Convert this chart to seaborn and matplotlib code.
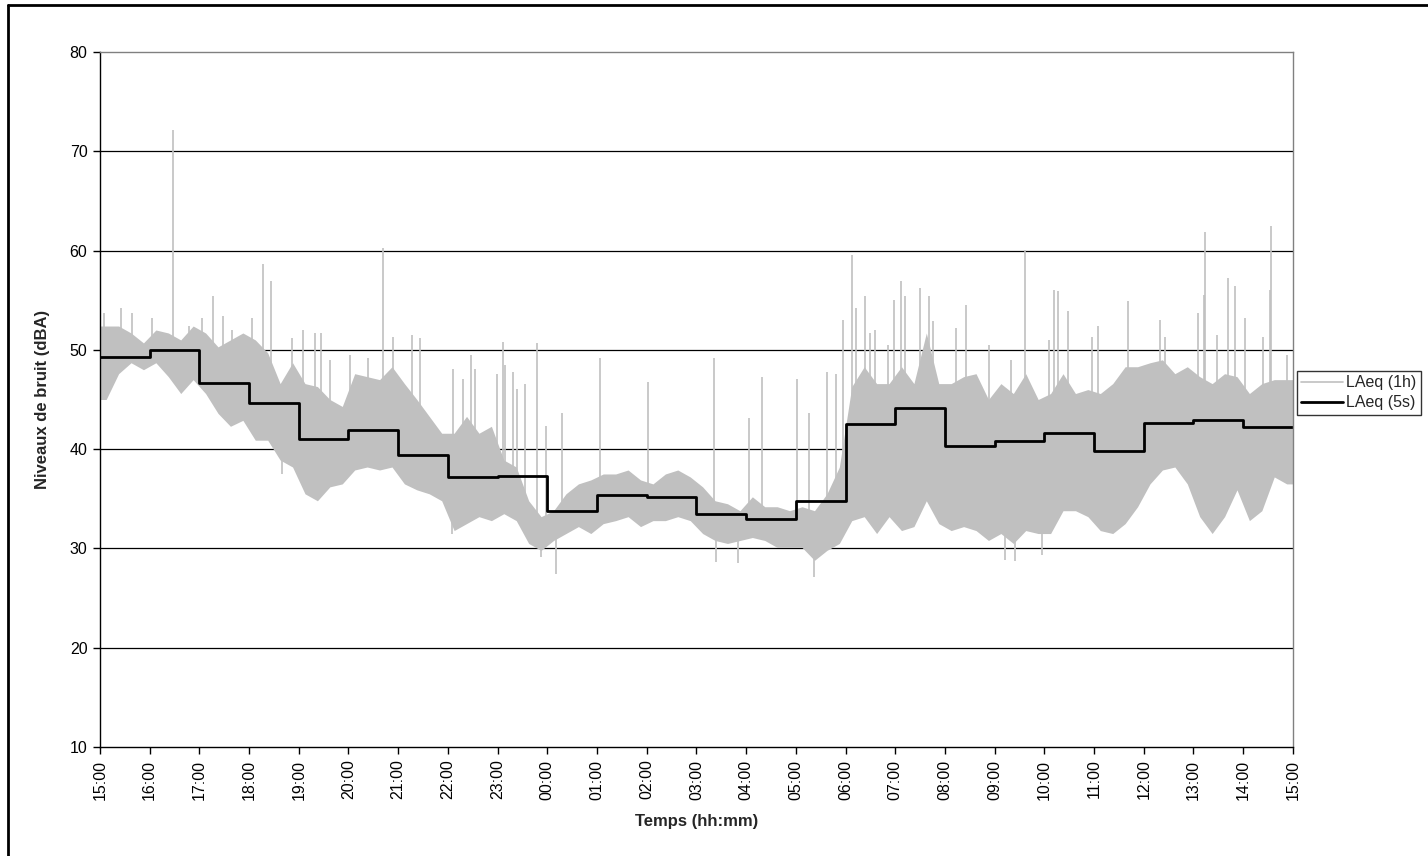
import numpy as np
import matplotlib
matplotlib.use("Agg")
import matplotlib.pyplot as plt
from matplotlib.lines import Line2D
import seaborn as sns

sns.set_theme(style="white")
plt.rcParams['font.family'] = ['Liberation Sans', 'DejaVu Sans']

# hour ticks, 15:00 -> 15:00 next day
hour_labels = ['15:00', '16:00', '17:00', '18:00', '19:00', '20:00', '21:00', '22:00',
               '23:00', '00:00', '01:00', '02:00', '03:00', '04:00', '05:00', '06:00',
               '07:00', '08:00', '09:00', '10:00', '11:00', '12:00', '13:00', '14:00', '15:00']

# hourly level (black step line)
leq_hourly = [49.3, 50.0, 46.7, 44.6, 41.0, 41.9, 39.4, 37.2, 37.3, 33.8, 35.4, 35.2,
              33.5, 33.0, 34.8, 42.5, 44.1, 40.3, 40.8, 41.6, 39.8, 42.6, 42.9, 42.2]

# short-interval levels: dense band read per 15 min (upper / lower edge)
band_high = [52.4, 52.4, 51.7, 50.7, 52.0, 51.7, 51.0, 52.4, 51.7, 50.3, 51.0, 51.7,
             51.0, 49.7, 46.6, 48.7, 46.6, 46.3, 45.0, 44.3, 47.6, 47.3, 47.0, 48.3,
             46.6, 45.0, 43.3, 41.6, 41.6, 43.3, 41.6, 42.3, 38.9, 38.2, 34.8, 33.2,
             33.8, 35.5, 36.5, 36.9, 37.5, 37.5, 37.9, 36.9, 36.5, 37.5, 37.9, 37.2,
             36.2, 34.8, 34.5, 33.8, 35.2, 34.2, 34.2, 33.8, 34.2, 33.8, 35.5, 38.2,
             46.3, 48.3, 46.6, 46.6, 48.3, 46.6, 51.7, 46.6, 46.6, 47.3, 47.6, 45.0,
             46.6, 45.6, 47.6, 45.0, 45.6, 47.6, 45.6, 46.0, 45.6, 46.6, 48.3, 48.3,
             48.7, 49.0, 47.6, 48.3, 47.3, 46.6, 47.6, 47.3, 45.6, 46.6, 47.0, 47.0]
band_low = [45.0, 47.6, 48.7, 48.0, 48.7, 47.3, 45.6, 47.0, 45.6, 43.6, 42.3, 42.9,
            40.9, 40.9, 38.9, 38.2, 35.5, 34.8, 36.2, 36.5, 37.9, 38.2, 37.9, 38.2,
            36.5, 35.9, 35.5, 34.8, 31.8, 32.5, 33.2, 32.8, 33.5, 32.8, 30.5, 29.8,
            30.8, 31.5, 32.2, 31.5, 32.5, 32.8, 33.2, 32.2, 32.8, 32.8, 33.2, 32.8,
            31.5, 30.8, 30.5, 30.8, 31.1, 30.8, 30.1, 30.1, 30.1, 28.8, 29.8, 30.5,
            32.8, 33.2, 31.5, 33.2, 31.8, 32.2, 34.8, 32.5, 31.8, 32.2, 31.8, 30.8,
            31.5, 30.5, 31.8, 31.5, 31.5, 33.8, 33.8, 33.2, 31.8, 31.5, 32.5, 34.2,
            36.5, 37.9, 38.2, 36.5, 33.2, 31.5, 33.2, 35.9, 32.8, 33.8, 37.2, 36.5]

# isolated peaks above the band
spike_times = ['15:05', '15:26', '15:39', '16:03', '16:28', '16:48', '17:03', '17:17',
               '17:28', '17:39', '18:04', '18:17', '18:27', '18:52',
               '19:05', '19:20', '19:27', '19:38', '20:02', '20:23', '20:42', '20:54',
               '21:17', '21:26', '22:06', '22:18', '22:28', '22:33', '22:59',
               '23:06', '23:09', '23:19', '23:23', '23:33', '23:48', '23:59', '00:18',
               '01:04', '02:01',
               '03:21', '04:04', '04:19', '05:01', '05:16', '05:37', '05:49', '05:57',
               '06:08', '06:13', '06:23', '06:29', '06:36', '06:51', '06:59',
               '07:07', '07:12', '07:30', '07:41', '07:45', '08:13', '08:25', '08:53',
               '09:20', '09:37', '10:06', '10:12', '10:16', '10:29', '10:58',
               '11:05', '11:41', '12:19', '12:25', '13:05', '13:13', '13:14', '13:28',
               '13:42', '13:50', '14:02', '14:24', '14:32', '14:33', '14:53']
spike_peaks = [53.7, 54.2, 53.7, 53.2, 72.1, 52.4, 53.2, 55.4,
               53.4, 52.0, 53.2, 58.6, 56.9, 51.2,
               52.0, 51.7, 51.7, 49.0, 49.5, 49.2, 60.3, 51.3,
               51.5, 51.2, 48.1, 47.1, 49.5, 48.1, 47.6,
               50.8, 48.5, 47.8, 46.1, 46.6, 50.7, 42.3, 43.6,
               49.2, 46.8,
               49.2, 43.1, 47.3, 47.1, 43.6, 47.8, 47.6, 53.0,
               59.6, 54.2, 55.4, 51.7, 52.0, 50.5, 55.0,
               56.9, 55.4, 56.2, 55.4, 52.9, 52.2, 54.5, 50.5,
               49.0, 60.1, 51.0, 56.0, 55.9, 53.9, 51.3,
               52.4, 54.9, 53.0, 51.3, 53.7, 55.5, 61.9, 51.5,
               57.2, 56.4, 53.2, 51.3, 56.0, 62.5, 49.5]

# isolated dips below the band
dip_times = ['18:40', '22:05', '23:52', '00:10', '03:24', '03:50', '05:22', '09:13', '09:25', '09:57']
dip_values = [37.5, 31.5, 29.1, 27.4, 28.6, 28.5, 27.1, 28.8, 28.7, 29.3]


def to_hours(label):
    h, m = map(int, label.split(':'))
    return ((h - 15) % 24) + m / 60


band_x = (np.arange(len(band_high)) + 0.5) * 0.25
band_x = np.concatenate([[0], band_x, [24]])
hi = np.concatenate([[band_high[0]], band_high, [band_high[-1]]])
lo = np.concatenate([[band_low[0]], band_low, [band_low[-1]]])
mid = (hi + lo) / 2

gray = '#C0C0C0'

fig = plt.figure(figsize=(14.28, 8.56), dpi=100)
ax = fig.add_axes([0.0700, 0.1273, 0.8354, 0.8120])

ax.fill_between(band_x, lo, hi, color=gray, lw=0)
st = np.array([to_hours(t) for t in spike_times])
ax.vlines(st, np.interp(st, band_x, mid), spike_peaks, color=gray, lw=1.2)
dt = np.array([to_hours(t) for t in dip_times])
ax.vlines(dt, dip_values, np.interp(dt, band_x, mid), color=gray, lw=1.2)

step_x = list(range(25))
step_y = leq_hourly + [leq_hourly[-1]]
sns.lineplot(x=step_x, y=step_y, ax=ax, color='black', lw=2.0,
             drawstyle='steps-post', estimator=None, sort=False)

for v in range(20, 80, 10):
    ax.axhline(v, color='black', lw=0.9, zorder=0.5)

ax.set_xlim(0, 24)
ax.set_ylim(10, 80)
ax.set_yticks(range(10, 90, 10))
ax.set_xticks(range(25))
ax.set_xticklabels(hour_labels, rotation=90)
ax.tick_params(bottom=True, left=True, direction='out', length=5, width=1,
               color='black', labelsize=11.5, labelcolor='black', pad=4)
for side in ['left', 'bottom']:
    ax.spines[side].set_color('black')
    ax.spines[side].set_linewidth(1)
for side in ['top', 'right']:
    ax.spines[side].set_color('#808080')
    ax.spines[side].set_linewidth(1)

ax.set_xlabel('Temps (hh:mm)', fontsize=12, fontweight='bold', labelpad=10)
ax.set_ylabel('Niveaux de bruit (dBA)', fontsize=12, fontweight='bold', labelpad=14)

handles = [Line2D([], [], color=gray, lw=1.2), Line2D([], [], color='black', lw=2)]
leg = fig.legend(handles, ['LAeq (1h)', 'LAeq (5s)'], loc='upper left',
                 bbox_to_anchor=(0.908, 0.567), fontsize=11.5, frameon=True,
                 fancybox=False, shadow=False, handlelength=2.6, handletextpad=0.2,
                 borderpad=0.3, labelspacing=0.3, borderaxespad=0)
leg.get_frame().set_edgecolor('black')
leg.get_frame().set_linewidth(1)

# outer chart frame (only left and top edges fall inside the picture)
x0, y0 = 8 / 1428, 1 - 5 / 856
fig.add_artist(Line2D([x0, x0], [0, y0], transform=fig.transFigure, color='black', lw=2))
fig.add_artist(Line2D([x0, 1], [y0, y0], transform=fig.transFigure, color='black', lw=2))

fig.savefig('out.png', dpi=100)
